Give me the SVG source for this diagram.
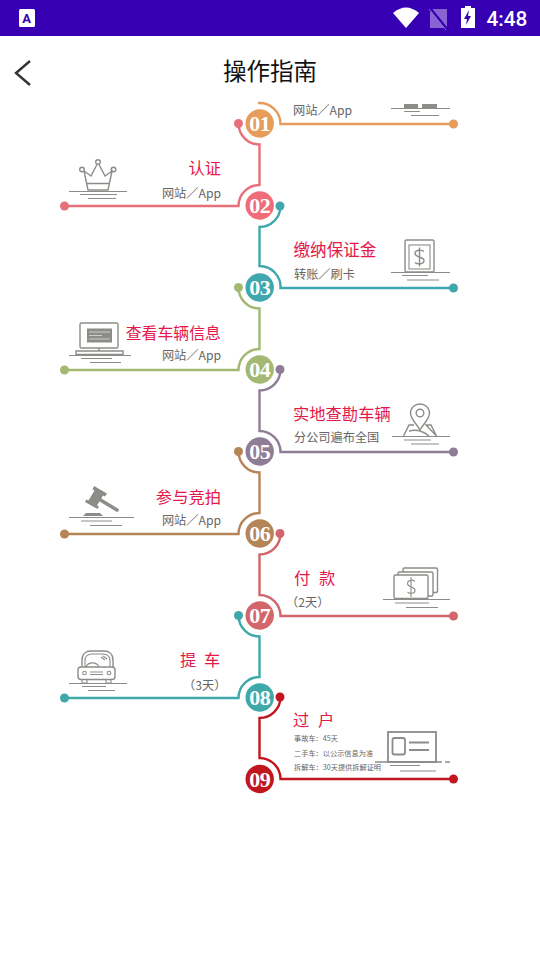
<svg xmlns="http://www.w3.org/2000/svg" width="540" height="960" viewBox="0 0 540 960">
<style>
text{font-family:"Noto Sans CJK SC","Noto Sans",sans-serif}
.num{font-family:"Liberation Serif",serif;font-weight:bold;font-size:22px;letter-spacing:-0.6px;fill:#fff;text-anchor:middle}
.h{font-size:16.3px;fill:#e5184b}
.s{font-size:12.2px;fill:#666}
.t{font-size:7.2px;fill:#666}
.e{text-anchor:end}
.c{fill:none;stroke-width:2.4}
.i{fill:none;stroke:#8c8c88;stroke-width:1.4}
.g{fill:none;stroke:#8c8c88;stroke-width:1.1}
.f{fill:#8c8c88}
</style>
<rect width="540" height="960" fill="#fff"/>
<g id="statusbar">
<rect width="540" height="36" fill="#3700b3"/>
<rect x="19" y="9" width="16" height="18" rx="1.5" fill="#fff"/>
<text x="26.5" y="23" font-size="13" font-weight="bold" fill="#3700b3" text-anchor="middle" style="font-family:Roboto,sans-serif">A</text>
<path d="M393 13Q406 2 419 13L406 28Z" fill="#fff"/>
<path d="M433 9H447V28H430V12Z" fill="#8a63d2"/>
<path d="M430 8L447 29" stroke="#3700b3" stroke-width="2.5"/>
<path d="M429 9L446 30" stroke="#8a63d2" stroke-width="1"/>
<path d="M465 6H471V8H475V28H461V8H465Z" fill="#fff"/>
<path d="M469 10L464 19H467L466 25L471 16H468Z" fill="#3700b3"/>
<text x="486.500" y="26" font-size="20.800" font-weight="500" fill="#fff" style="font-family:Roboto,sans-serif">4:48</text>
</g>
<g id="header">
<path d="M30 61L16 73L30 85" fill="none" stroke="#333" stroke-width="2.400"/>
<text x="270" y="80" font-size="23.500" fill="#111" text-anchor="middle">操作指南</text>
</g>
<g id="connectors">
<path class="c" stroke="#e69c5a" d="M258 103A21 21 0 0 1 280.500 124H453.500"/>
<path class="c" stroke="#e8707b" d="M238.500 123.500A21 21 0 0 0 259.500 144.500V185A21 21 0 0 0 238.500 206H64.500"/>
<path class="c" stroke="#3fa7ad" d="M280.500 206A21 21 0 0 1 259.500 227V266A21 21 0 0 1 280.500 288H453.500"/>
<path class="c" stroke="#a3b873" d="M238.500 287.500A21 21 0 0 0 259.500 308.500V349A21 21 0 0 0 238.500 370H64.500"/>
<path class="c" stroke="#8f7d95" d="M280.500 369.500A21 21 0 0 1 259.500 390.500V431A21 21 0 0 1 280.500 452H453.500"/>
<path class="c" stroke="#b58558" d="M238.500 451.500A21 21 0 0 0 259.500 472.500V513A21 21 0 0 0 238.500 534H64.500"/>
<path class="c" stroke="#d2666a" d="M280.500 533.500A21 21 0 0 1 259.500 554.500V595A21 21 0 0 1 280.500 616H453.500"/>
<path class="c" stroke="#3fa9a9" d="M238.500 615.500A21 21 0 0 0 259.500 636.500V677A21 21 0 0 0 238.500 698H64.500"/>
<path class="c" stroke="#c2161f" d="M280.500 697A21 21 0 0 1 259.500 718V758A21 21 0 0 1 280.500 779H453.500"/>
<g>
<circle cx="453.500" cy="124" r="4.500" fill="#e69c5a"/>
<circle cx="238.500" cy="123.500" r="4.500" fill="#e8707b"/><circle cx="64.500" cy="206" r="4.500" fill="#e8707b"/>
<circle cx="280" cy="206" r="4.500" fill="#3fa7ad"/><circle cx="453.500" cy="288" r="4.500" fill="#3fa7ad"/>
<circle cx="238.500" cy="287.500" r="4.500" fill="#a3b873"/><circle cx="64.500" cy="370" r="4.500" fill="#a3b873"/>
<circle cx="280" cy="369.500" r="4.500" fill="#8f7d95"/><circle cx="453.500" cy="452" r="4.500" fill="#8f7d95"/>
<circle cx="238.500" cy="451.500" r="4.500" fill="#b58558"/><circle cx="64.500" cy="534" r="4.500" fill="#b58558"/>
<circle cx="280" cy="533.500" r="4.500" fill="#d2666a"/><circle cx="453.500" cy="616" r="4.500" fill="#d2666a"/>
<circle cx="238.500" cy="615.500" r="4.500" fill="#3fa9a9"/><circle cx="64.500" cy="698" r="4.500" fill="#3fa9a9"/>
<circle cx="280" cy="697" r="4.500" fill="#c2161f"/><circle cx="453.500" cy="779" r="4.500" fill="#c2161f"/>
</g>
</g>
<g id="n01">
<circle cx="259.700" cy="123.500" r="14.200" fill="#e69c5a"/>
<text class="num" x="259.700" y="131">01</text>
<text class="s" x="293" y="114.500">网站／App</text>
<path class="f" d="M404 104H418V108H404ZM422 104H437V108H422Z"/>
<path class="g" d="M391 108.500H450M404 111.500H420M411 115.500H439"/>
</g>
<g id="n02">
<circle cx="259.700" cy="205.500" r="14.200" fill="#ee6d79"/>
<text class="num" x="259.700" y="213">02</text>
<text class="h e" x="221" y="174">认证</text>
<text class="s e" x="221" y="197.500">网站／App</text>
<circle class="i" cx="82" cy="169.500" r="2.300"/><circle class="i" cx="98" cy="162" r="2.300"/><circle class="i" cx="113.500" cy="169.500" r="2.300"/>
<path class="i" d="M84 171L91 176L97 164.500M99 164.500L105 176L112 171L108 190H88L84 171M87 183.500H109"/>
<path class="g" d="M69 191.500H127M80 194.500H117M88 198.500H116"/>
</g>
<g id="n03">
<circle cx="259.700" cy="287.500" r="14.200" fill="#3fa7ad"/>
<text class="num" x="259.700" y="295">03</text>
<text class="h" x="293.500" y="255.500" style="font-size:16.600px">缴纳保证金</text>
<text class="s" x="294" y="278.500">转账／刷卡</text>
<rect class="i" x="405" y="240" width="29" height="32" rx="1.500"/>
<rect class="g" x="409" y="245" width="21" height="24"/>
<path class="i" d="M424 251.500C422 249.500 415 249.500 415 253.500C415 257.500 424 256.500 424 260.500C424 264.500 417 264.500 415 262.500M419.500 247.500V266.500"/>
<path class="g" d="M391 272.500H450M402 275.500H428M407 280H439"/>
</g>
<g id="n04">
<circle cx="259.700" cy="369.500" r="14.200" fill="#a3b873"/>
<text class="num" x="259.700" y="377">04</text>
<text class="h e" x="221" y="339" style="font-size:15.900px">查看车辆信息</text>
<text class="s e" x="221" y="359.500">网站／App</text>
<rect class="i" x="80" y="323" width="38" height="25" rx="1.500"/>
<rect class="f" x="87" y="328.500" width="25" height="14"/>
<path d="M89 332H110M89 335.500H102M89 339H110" stroke="#ddd" stroke-width="0.800"/>
<path class="i" d="M99 348V351M76 351H123V354.500H76Z"/>
<path class="g" d="M69 355.500H131M81 358.500H112M90 362.500H121"/>
</g>
<g id="n05">
<circle cx="259.700" cy="451.500" r="14.200" fill="#8f7d95"/>
<text class="num" x="259.700" y="459">05</text>
<text class="h" x="293" y="420">实地查勘车辆</text>
<text class="s" x="294" y="442">分公司遍布全国</text>
<path class="i" d="M420 430C416 423 410.500 419 410.500 413C410.500 407.500 415 404 420 404C425 404 429.500 407.500 429.500 413C429.500 419 424 423 420 430Z"/>
<circle class="i" cx="420" cy="413" r="3.800"/>
<path class="i" d="M403.500 436L409 425H414M426 425H431L436.500 436ZM409 431C416 429 423 431 429 436"/>
<path class="g" d="M392 436.500H450M404 440H431M411 444H439"/>
</g>
<g id="n06">
<circle cx="259.700" cy="533.500" r="14.200" fill="#b58558"/>
<text class="num" x="259.700" y="541">06</text>
<text class="h e" x="221" y="502.500">参与竞拍</text>
<text class="s e" x="221" y="525">网站／App</text>
<path class="f" d="M94 486L107 493.500L105 496.500L103 495.500L97 505.500L99 506.500L97.500 509L85 502L86.500 499.500L88.500 500.500L94.500 490.500L92.500 489.500Z"/>
<path d="M100.500 500L117 510" stroke="#8c8c88" stroke-width="3.500" stroke-linecap="round"/>
<path class="f" d="M86 513H100L103 516H83Z"/>
<path class="g" d="M69 517.500H134M81 521H112M90 525.500H122"/>
</g>
<g id="n07">
<circle cx="259.700" cy="615.500" r="14.200" fill="#d2666a"/>
<text class="num" x="259.700" y="623">07</text>
<text class="h" x="294" y="584">付</text><text class="h" x="319" y="584">款</text>
<text class="s" x="286" y="606.500">（2天）</text>
<path class="i" d="M403 572V569.500Q403 568 404.500 568H436Q437.500 568 437.500 569.500V591Q437.500 592.500 436 592.500H433"/>
<path class="i" d="M398 575V573.500Q398 572 399.500 572H431.500Q433 572 433 573.500V594.500Q433 596 431.500 596H428"/>
<rect class="i" x="394" y="575" width="34" height="23.500" rx="1.500"/>
<path class="g" d="M415 581.500C413.500 579.500 407.500 579.500 407.500 583.500C407.500 587.500 415 586.500 415 590.500C415 594 409 594 407.500 592M411 577V597"/>
<path class="g" d="M383 599.500H450M395 603H429M406 607.500H438"/>
</g>
<g id="n08">
<circle cx="259.700" cy="697.500" r="14.200" fill="#3fa9a9"/>
<text class="num" x="259.700" y="705">08</text>
<text class="h" x="180" y="666">提</text><text class="h" x="204" y="666">车</text>
<text class="s" x="183" y="690">（3天）</text>
<path class="i" d="M82 667V660C82 654 86 651 91 651H104C109 651 113 654 113 660V667"/>
<path class="g" d="M85 667V661C85 656 88 654 92 654H103C107 654 110 656 110 661V667M86 667A7 6.500 0 0 1 99 667M101 657L105 660M103 656L107 659"/>
<rect class="i" x="78" y="667" width="37" height="12.500" rx="3"/>
<circle class="g" cx="84.500" cy="673" r="1.800"/><circle class="g" cx="109" cy="673" r="1.800"/>
<path class="g" d="M90 672H103M90 674.500H103M82 679.500V683H87V679.500M106 679.500V683H111V679.500"/>
<path class="g" d="M69 683.500H127M82 686.500H106M88 690.500H115"/>
</g>
<g id="n09">
<circle cx="259.700" cy="779" r="14.200" fill="#c2161f"/>
<text class="num" x="259.700" y="786.500">09</text>
<text class="h" x="293" y="726">过</text><text class="h" x="318" y="726">户</text>
<text class="t" x="294" y="741">事故车：45天</text>
<text class="t" x="294" y="755.500">二手车：以公示信息为准</text>
<text class="t" x="294" y="770">拆解车：30天提供拆解证明</text>
<rect x="388" y="732" width="48" height="30" fill="none" stroke="#8c8c88" stroke-width="1.800"/>
<rect x="392.500" y="738" width="12.500" height="16.500" rx="2" fill="none" stroke="#8c8c88" stroke-width="1.800"/>
<path d="M409 742.500H429M409 750H429" stroke="#8c8c88" stroke-width="1.800"/>
<path d="M375 762H442M445 762H450" stroke="#8c8c88" stroke-width="1.400"/>
<path class="g" d="M390 765.500H420M400 771H436"/>
</g>
</svg>
